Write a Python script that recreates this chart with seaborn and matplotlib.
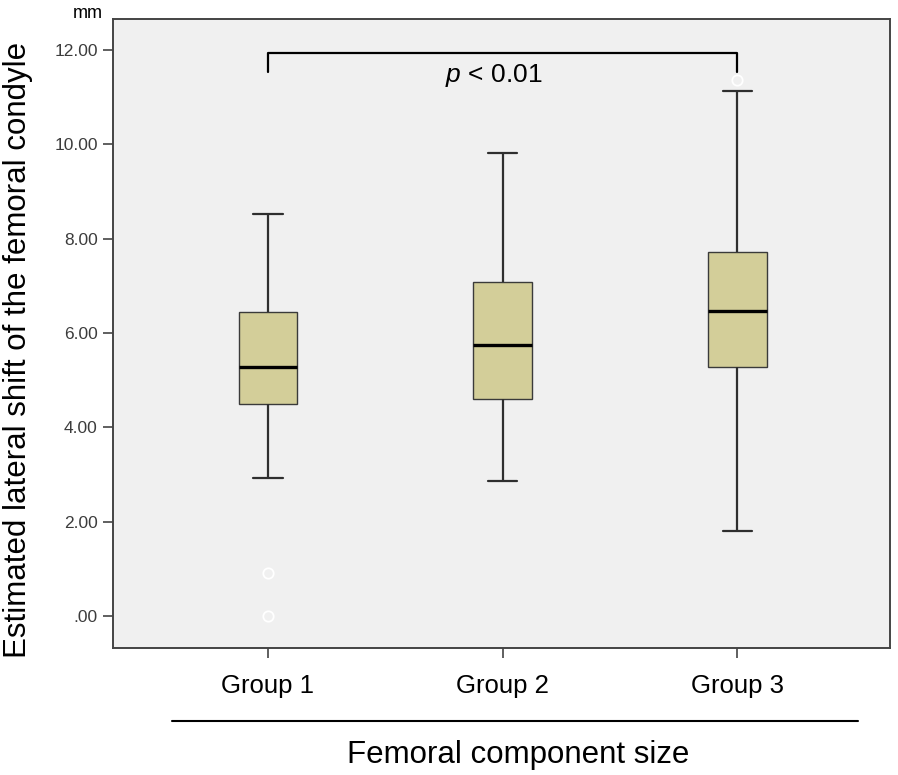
import matplotlib
matplotlib.use("Agg")
import matplotlib.pyplot as plt
from matplotlib.lines import Line2D
from matplotlib.ticker import FuncFormatter
import seaborn as sns
import pandas as pd

# values (mm)
groups = ["Group 1", "Group 2", "Group 3"]
whisker_low = [2.92, 2.87, 1.81]
q1 = [4.49, 4.59, 5.27]
median = [5.28, 5.75, 6.47]
q3 = [6.45, 7.07, 7.71]
whisker_high = [8.52, 9.82, 11.12]
outlier_group = ["Group 1", "Group 1", "Group 3"]
outlier_value = [0.90, 0.00, 11.36]
y_ticks = [0, 2, 4, 6, 8, 10, 12]

p_label = "$p$ < 0.01"
bracket_pair = ("Group 1", "Group 3")
bracket_top = 11.93
bracket_drop = 0.40

"""Plot setup"""
sns.set_style("ticks")
plt.rcParams.update({
    "font.family": ["Liberation Sans", "DejaVu Sans"],
    "mathtext.fontset": "custom",
    "mathtext.rm": "Liberation Sans",
    "mathtext.it": "Liberation Sans:italic",
    "text.color": "black",
    "axes.labelcolor": "black",
    "axes.facecolor": "#F0F0F0",
    "axes.edgecolor": "#444444",
    "axes.linewidth": 1.4,
})

# long table: one row per summary value so the box spans exactly these stats
rows = []
for g, lo, a, m, b, hi in zip(groups, whisker_low, q1, median, q3, whisker_high):
    for v in (lo, a, m, b, hi):
        rows.append({"group": g, "shift": v})
summary = pd.DataFrame(rows)
outliers = pd.DataFrame({"group": outlier_group, "shift": outlier_value})

fig = plt.figure(figsize=(8.98, 7.75), dpi=100)
ax = fig.add_axes([113 / 898, 1 - 647.5 / 775, 777 / 898, 628.2 / 775])

sns.boxplot(
    data=summary, x="group", y="shift", order=groups,
    whis=(0, 100), width=0.25, color="#D3CE99", saturation=1,
    linecolor="#3A3A3A", linewidth=1.0, fliersize=0,
    medianprops=dict(color="black", linewidth=2.4),
    whiskerprops=dict(color="#2E2E2E", linewidth=1.6),
    capprops=dict(color="#2E2E2E", linewidth=1.6),
    ax=ax,
)
sns.stripplot(
    data=outliers, x="group", y="shift", order=groups, jitter=False,
    color="#F0F0F0", edgecolor="white", linewidth=1.3, size=7.5, ax=ax,
)

ax.set_xlim(-0.66, 2.65)
ax.set_ylim(-0.67, 12.65)
ax.set_yticks(y_ticks)
ax.yaxis.set_major_formatter(FuncFormatter(lambda v, _: ".00" if v == 0 else f"{v:.2f}"))
ax.set_xlabel("")
ax.set_ylabel("")
for s in ax.spines.values():
    s.set_visible(True)

ax.tick_params(axis="y", length=7, width=1.2, color="#444444", labelsize=12.5,
               labelcolor="#3C3C3C", pad=4)
ax.tick_params(axis="x", length=7, width=1.2, color="#444444", labelsize=18.5,
               labelcolor="black", pad=12)

# significance bracket
x0, x1 = groups.index(bracket_pair[0]), groups.index(bracket_pair[1])
ax.plot([x0, x0, x1, x1],
        [bracket_top - bracket_drop, bracket_top, bracket_top, bracket_top - bracket_drop],
        color="black", linewidth=1.6)
ax.text((x0 + x1) / 2 - 0.04, 11.33, p_label, ha="center", va="baseline",
        fontsize=19, color="black")

fig.text(103 / 898, 1 - 18 / 775, "mm", ha="right", va="baseline", fontsize=13)
fig.text(18 / 898, 1 - 350 / 775, "Estimated lateral shift of the femoral condyle",
         rotation=90, ha="center", va="center", fontsize=22.5)
fig.add_artist(Line2D([172 / 898, 858 / 898], [1 - 720.5 / 775] * 2,
                      color="black", linewidth=1.5))
fig.text(518 / 898, 1 - 763 / 775, "Femoral component size",
         ha="center", va="baseline", fontsize=22.5)

plt.savefig("out.png", dpi=100)
